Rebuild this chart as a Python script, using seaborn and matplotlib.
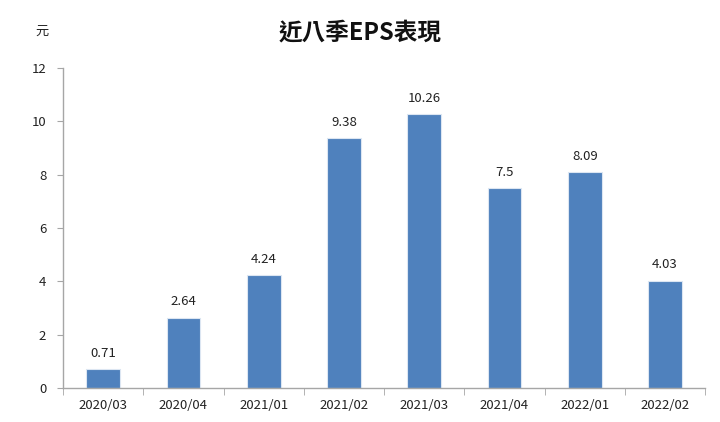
import matplotlib
matplotlib.use("Agg")
import matplotlib.pyplot as plt
import seaborn as sns
import pandas as pd
import numpy as np

quarters = ["2020/03", "2020/04", "2021/01", "2021/02", "2021/03", "2021/04", "2022/01", "2022/02"]
eps = [0.71, 2.64, 4.24, 9.38, 10.26, 7.5, 8.09, 4.03]
labels = ["0.71", "2.64", "4.24", "9.38", "10.26", "7.5", "8.09", "4.03"]

sns.set_style("white")
plt.rcParams['font.family'] = ['Noto Sans CJK TC', 'DejaVu Sans']

df = pd.DataFrame({"q": quarters, "eps": eps})
fig = plt.figure(figsize=(7.2, 4.22), dpi=100)
ax = fig.add_axes([0.0875, 0.0806, 0.892, 0.758])
sns.barplot(data=df, x="q", y="eps", color="#4F81BD", saturation=1, width=0.42,
            edgecolor="#DCE6F2", linewidth=0.8, ax=ax)

for i, (v, t) in enumerate(zip(eps, labels)):
    ax.text(i, v + 0.35, t, ha="center", va="bottom", fontsize=9.5, color="#222222")

ax.set_ylim(0, 12)
ax.set_xlim(-0.5, len(quarters) - 0.5)
ax.set_yticks(range(0, 13, 2))
ax.set_xlabel("")
ax.set_ylabel("")
for s in ["top", "right"]:
    ax.spines[s].set_visible(False)
for s in ["left", "bottom"]:
    ax.spines[s].set_color("#A6A6A6")
    ax.spines[s].set_linewidth(1)
ax.tick_params(axis="y", length=4, color="#A6A6A6", labelsize=9.5, labelcolor="#222222", direction="out", left=True, pad=8)
ax.tick_params(axis="x", length=0, labelsize=9.5, labelcolor="#222222", pad=8)
ax.set_xticks(np.arange(-0.5, len(quarters), 1), minor=True)
ax.tick_params(axis="x", which="minor", length=5, color="#A6A6A6", bottom=True, direction="out")

fig.text(0.5, 0.922, "近八季EPS表現", ha="center", va="center", fontsize=17, fontweight="bold", color="#111111")
fig.text(0.058, 0.925, "元", ha="center", va="center", fontsize=9.5, color="#222222")

fig.savefig("out.png", dpi=100)
